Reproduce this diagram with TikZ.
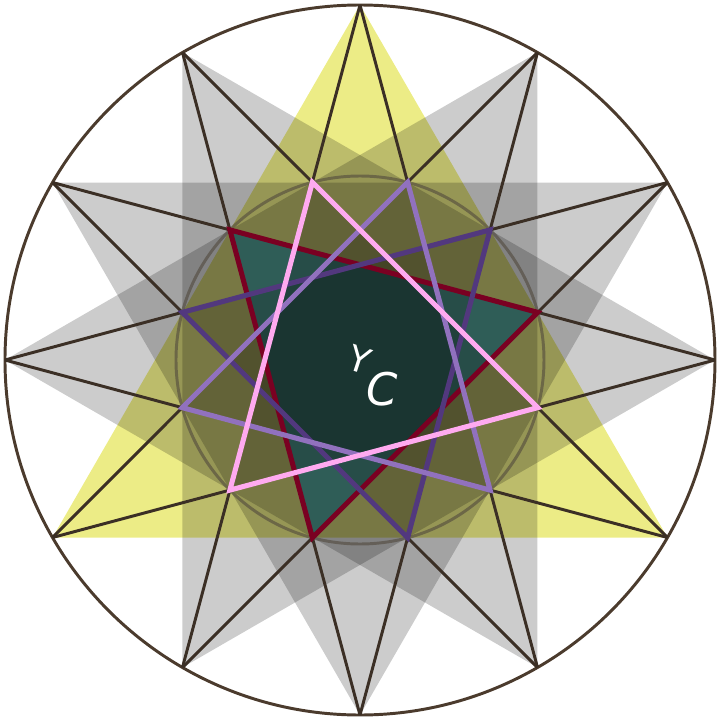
\documentclass[tikz,border=0pt]{standalone}
\usepackage{fontspec}
\usepackage{tikz}
\usetikzlibrary{positioning}
\newfontfamily\labelfont{DejaVu Sans}
\definecolor{ringbrown}{RGB}{75, 59, 45}
\definecolor{starbrown}{RGB}{59, 47, 37}
\definecolor{ringgray}{RGB}{80, 72, 60}
\definecolor{paleyellow}{RGB}{236, 236, 134}
\definecolor{darkteal}{RGB}{47, 93, 87}
\definecolor{wine}{RGB}{122, 0, 34}
\definecolor{darkviolet}{RGB}{82, 56, 126}
\definecolor{lightviolet}{RGB}{145, 113, 190}
\definecolor{pinkline}{RGB}{255, 170, 240}

\begin{document}
\begin{tikzpicture}[-, starline/.style={draw=starbrown, line width=2.1pt}, shade/.style={fill=black, fill opacity=0.2}, inshade/.style={fill=black, fill opacity=0.17}, tri/.style={line width=3.6pt}]
  \useasboundingbox (-9,-9) rectangle (9,9);
  \coordinate (c) at (0,0);

  \coordinate (o0) at (0:8.875);
  \coordinate (o30) at (30:8.875);
  \coordinate (o60) at (60:8.875);
  \coordinate (o90) at (90:8.875);
  \coordinate (o120) at (120:8.875);
  \coordinate (o150) at (150:8.875);
  \coordinate (o180) at (180:8.875);
  \coordinate (o210) at (210:8.875);
  \coordinate (o240) at (240:8.875);
  \coordinate (o270) at (270:8.875);
  \coordinate (o300) at (300:8.875);
  \coordinate (o330) at (330:8.875);

  \coordinate (i15) at (15:4.6);
  \coordinate (i45) at (45:4.6);
  \coordinate (i75) at (75:4.6);
  \coordinate (i105) at (105:4.6);
  \coordinate (i135) at (135:4.6);
  \coordinate (i165) at (165:4.6);
  \coordinate (i195) at (195:4.6);
  \coordinate (i225) at (225:4.6);
  \coordinate (i255) at (255:4.6);
  \coordinate (i285) at (285:4.6);
  \coordinate (i315) at (315:4.6);
  \coordinate (i345) at (345:4.6);

  \fill[paleyellow] (o90) -- (o210) -- (o330) -- cycle;
  \fill[shade] (o0) -- (o120) -- (o240) -- cycle;
  \fill[shade] (o30) -- (o150) -- (o270) -- cycle;
  \fill[shade] (o60) -- (o180) -- (o300) -- cycle;

  \fill[darkteal] (i15) -- (i135) -- (i255) -- cycle;
  \fill[inshade] (i45) -- (i165) -- (i285) -- cycle;
  \fill[inshade] (i75) -- (i195) -- (i315) -- cycle;
  \fill[inshade] (i105) -- (i225) -- (i345) -- cycle;

  \draw[ringgray, draw opacity=0.6, line width=2.1pt] (c) circle (4.6);
  \draw[ringbrown, line width=2.1pt] (c) circle (8.875);

  \path[starline] (o0) edge (i345) edge (i15);
  \path[starline] (o30) edge (i15) edge (i45);
  \path[starline] (o60) edge (i45) edge (i75);
  \path[starline] (o90) edge (i75) edge (i105);
  \path[starline] (o120) edge (i105) edge (i135);
  \path[starline] (o150) edge (i135) edge (i165);
  \path[starline] (o180) edge (i165) edge (i195);
  \path[starline] (o210) edge (i195) edge (i225);
  \path[starline] (o240) edge (i225) edge (i255);
  \path[starline] (o270) edge (i255) edge (i285);
  \path[starline] (o300) edge (i285) edge (i315);
  \path[starline] (o330) edge (i315) edge (i345);

  \draw[tri, wine] (i15) -- (i135) -- (i255) -- cycle;
  \draw[tri, darkviolet] (i45) -- (i165) -- (i285) -- cycle;
  \draw[tri, lightviolet] (i75) -- (i195) -- (i315) -- cycle;
  \draw[tri, pinkline] (i105) -- (i225) -- (i345) -- cycle;

  \node[text=white, rotate=-18, inner sep=0pt, font=\labelfont\fontsize{25}{28}\selectfont] (ylab) at (0.0,0.0) {Y};
  \node[text=white, inner sep=0pt, font=\labelfont\itshape\fontsize{32}{36}\selectfont] (clab) at (0.55,-0.72) {C};
\end{tikzpicture}
\end{document}
